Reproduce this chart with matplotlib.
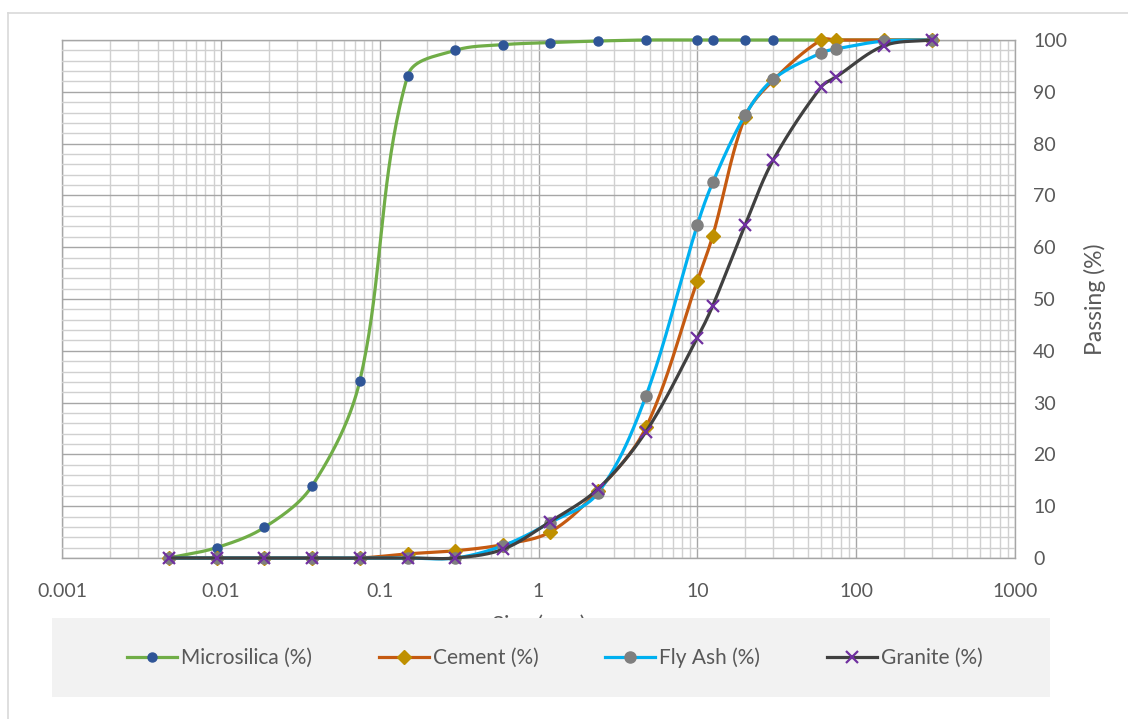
import numpy as np
import matplotlib
matplotlib.use("Agg")
import matplotlib.pyplot as plt
from matplotlib.lines import Line2D
from matplotlib.patches import Rectangle
from matplotlib.ticker import FixedLocator, NullFormatter, LogLocator

plt.rcParams['font.family'] = ['Lato', 'DejaVu Sans']

# sieve sizes (mm)
sizes = [0.0047, 0.0094, 0.0188, 0.0375, 0.075, 0.15, 0.3, 0.6, 1.18, 2.36,
         4.75, 10, 12.5, 20, 30, 60, 75, 150, 300]

# percent passing per material
microsilica = [0, 2.0, 5.9, 13.9, 34.2, 93.1, 98.0, 99.1, 99.5, 99.8,
               100, 100, 100, 100, 100, 100, 100, 100, 100]
cement = [0, 0, 0, 0, 0, 0.8, 1.4, 2.6, 5.0, 13.0,
          25.2, 53.5, 62.2, 85.2, 92.2, 100, 100, 100, 100]
fly_ash = [0, 0, 0, 0, 0, 0, 0, 2.4, 6.8, 12.5,
           31.3, 64.3, 72.5, 85.5, 92.4, 97.5, 98.3, 99.8, 100]
granite = [0, 0, 0, 0, 0, 0, 0, 1.7, 7.0, 13.3,
           24.4, 42.5, 48.7, 64.3, 76.8, 90.9, 92.9, 98.9, 100]

labels = ['Microsilica (%)', 'Cement (%)', 'Fly Ash (%)', 'Granite (%)']
series = [microsilica, cement, fly_ash, granite]
line_colors = ['#70AD47', '#C55A11', '#00B0F0', '#404040']
marker_colors = ['#2F5597', '#BF9000', '#7F7F7F', '#7030A0']
markers = ['o', 'D', 'o', 'x']
marker_sizes = [6.5, 7, 8, 9]

# screen scale of the plot area: px per decade, px per percent
PX_DECADE = 953 / 6
PX_PCT = 518 / 100


def smooth(x, y, n=40):
    # bezier through the points in screen space; handle length follows
    # the neighbouring segment length so short steps don't overshoot
    u = np.log10(np.asarray(x, float)) * PX_DECADE
    v = np.asarray(y, float) * PX_PCT
    p = np.column_stack([u, v])
    m = len(p)
    tang = np.zeros_like(p)
    for i in range(m):
        a = p[max(i - 1, 0)]
        b = p[min(i + 1, m - 1)]
        d = b - a
        nrm = np.hypot(*d)
        tang[i] = d / nrm if nrm > 0 else 0
    t = np.linspace(0, 1, n)[:, None]
    out = []
    for i in range(m - 1):
        p0, p3 = p[i], p[i + 1]
        L = np.hypot(*(p3 - p0))
        c1 = p0 + tang[i] * L / 3
        c2 = p3 - tang[i + 1] * L / 3
        seg = ((1 - t) ** 3) * p0 + 3 * ((1 - t) ** 2) * t * c1 \
            + 3 * (1 - t) * t ** 2 * c2 + t ** 3 * p3
        out.append(seg if i == 0 else seg[1:])
    out = np.vstack(out)
    return 10 ** (out[:, 0] / PX_DECADE), out[:, 1] / PX_PCT


fig = plt.figure(figsize=(11.28, 7.19), dpi=100)
ax = fig.add_axes([62 / 1128, 1 - 558 / 719, (1015 - 62) / 1128, (558 - 40) / 719])

for i, (vals, lab) in enumerate(zip(series, labels)):
    sx, sy = smooth(sizes, vals)
    ax.plot(sx, sy, color=line_colors[i], lw=2.3, solid_capstyle='round',
            zorder=3 + i, clip_on=False)
    if markers[i] == 'x':
        ax.plot(sizes, vals, ls='none', marker='x', ms=marker_sizes[i],
                mec=marker_colors[i], mew=1.6, zorder=3.5 + i, clip_on=False)
    else:
        ax.plot(sizes, vals, ls='none', marker=markers[i], ms=marker_sizes[i],
                mfc=marker_colors[i], mec=marker_colors[i], zorder=3.5 + i,
                clip_on=False)

ax.set_xscale('log')
ax.set_xlim(0.001, 1000)
ax.set_ylim(0, 100)

ax.xaxis.set_major_locator(FixedLocator([0.001, 0.01, 0.1, 1, 10, 100, 1000]))
ax.set_xticklabels(['0.001', '0.01', '0.1', '1', '10', '100', '1000'])
ax.xaxis.set_minor_locator(LogLocator(base=10, subs=np.arange(2, 10), numticks=100))
ax.xaxis.set_minor_formatter(NullFormatter())
ax.set_yticks(np.arange(0, 101, 10))
ax.set_yticks(np.arange(0, 101, 2), minor=True)
ax.yaxis.tick_right()
ax.yaxis.set_label_position('right')

ax.grid(True, which='major', color='#A6A6A6', lw=1.0, zorder=0)
ax.grid(True, which='minor', color='#D0D0D0', lw=1.0, zorder=0)
ax.set_axisbelow(True)
for s in ax.spines.values():
    s.set_color('#A6A6A6')
    s.set_linewidth(1.0)
    s.set_zorder(0.5)

ax.tick_params(which='both', length=0, labelsize=14, labelcolor='#595959')
ax.tick_params(axis='x', pad=18)
ax.tick_params(axis='y', pad=13)
ax.set_xlabel('Size (mm)', fontsize=16, color='#595959', labelpad=11)
ax.set_ylabel('Passing (%)', fontsize=16.5, color='#595959', labelpad=12)

# chart border and legend panel
fig.add_artist(Line2D([8 / 1128, 1], [1 - 13 / 719] * 2, color='#D9D9D9', lw=1.2))
fig.add_artist(Line2D([8 / 1128] * 2, [0, 1 - 13 / 719], color='#D9D9D9', lw=1.2))
fig.add_artist(Rectangle((52 / 1128, 1 - 697 / 719), (1050 - 52) / 1128, (697 - 618) / 719,
                         transform=fig.transFigure, facecolor='#F2F2F2',
                         edgecolor='none', zorder=5))

handles = []
for i, lab in enumerate(labels):
    if markers[i] == 'x':
        h = Line2D([], [], color=line_colors[i], lw=2.3, marker='x',
                   ms=marker_sizes[i], mec=marker_colors[i], mew=1.6)
    else:
        h = Line2D([], [], color=line_colors[i], lw=2.3, marker=markers[i],
                   ms=marker_sizes[i], mfc=marker_colors[i], mec=marker_colors[i])
    handles.append(h)

leg = fig.legend(handles, labels, loc='center', bbox_to_anchor=(555 / 1128, 1 - 658 / 719),
                 ncol=4, frameon=False, fontsize=15, handlelength=2.4,
                 handletextpad=0.2, columnspacing=3.2, labelcolor='#595959')
leg.set_zorder(6)

fig.savefig('out.png', dpi=100)
